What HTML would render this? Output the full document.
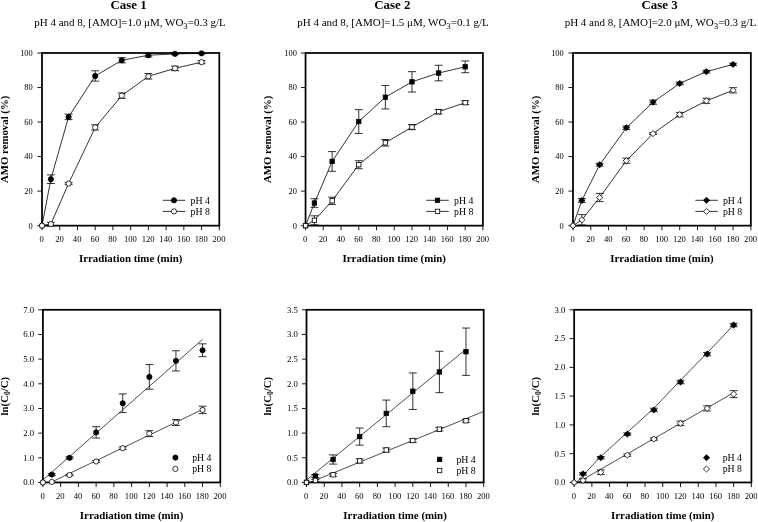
<!DOCTYPE html>
<html lang="en">
<head>
<meta charset="utf-8">
<title>AMO removal - Case 1, Case 2, Case 3</title>
<style>
html,body{margin:0;padding:0;background:#fff;}
svg{display:block;font-family:'Liberation Serif', 'DejaVu Serif', serif;fill:#000;}
svg text{fill:#000;stroke:none;}
</style>
</head>
<body>
<svg width="758" height="522" viewBox="0 0 758 522">
<rect width="758" height="522" fill="#fff"/>
<line x1="42" y1="225.65" x2="42" y2="230.25" stroke="#000" stroke-width="0.9"/>
<line x1="59.73" y1="225.65" x2="59.73" y2="230.25" stroke="#000" stroke-width="0.9"/>
<line x1="77.46" y1="225.65" x2="77.46" y2="230.25" stroke="#000" stroke-width="0.9"/>
<line x1="95.19" y1="225.65" x2="95.19" y2="230.25" stroke="#000" stroke-width="0.9"/>
<line x1="112.92" y1="225.65" x2="112.92" y2="230.25" stroke="#000" stroke-width="0.9"/>
<line x1="130.65" y1="225.65" x2="130.65" y2="230.25" stroke="#000" stroke-width="0.9"/>
<line x1="148.38" y1="225.65" x2="148.38" y2="230.25" stroke="#000" stroke-width="0.9"/>
<line x1="166.11" y1="225.65" x2="166.11" y2="230.25" stroke="#000" stroke-width="0.9"/>
<line x1="183.84" y1="225.65" x2="183.84" y2="230.25" stroke="#000" stroke-width="0.9"/>
<line x1="201.57" y1="225.65" x2="201.57" y2="230.25" stroke="#000" stroke-width="0.9"/>
<line x1="219.3" y1="225.65" x2="219.3" y2="230.25" stroke="#000" stroke-width="0.9"/>
<line x1="37.4" y1="225.65" x2="42" y2="225.65" stroke="#000" stroke-width="0.9"/>
<line x1="37.4" y1="191.12" x2="42" y2="191.12" stroke="#000" stroke-width="0.9"/>
<line x1="37.4" y1="156.59" x2="42" y2="156.59" stroke="#000" stroke-width="0.9"/>
<line x1="37.4" y1="122.06" x2="42" y2="122.06" stroke="#000" stroke-width="0.9"/>
<line x1="37.4" y1="87.53" x2="42" y2="87.53" stroke="#000" stroke-width="0.9"/>
<line x1="37.4" y1="53" x2="42" y2="53" stroke="#000" stroke-width="0.9"/>
<text x="41.7" y="241.75" font-size="8.6" text-anchor="middle">0</text>
<text x="59.43" y="241.75" font-size="8.6" text-anchor="middle">20</text>
<text x="77.16" y="241.75" font-size="8.6" text-anchor="middle">40</text>
<text x="94.89" y="241.75" font-size="8.6" text-anchor="middle">60</text>
<text x="112.62" y="241.75" font-size="8.6" text-anchor="middle">80</text>
<text x="130.35" y="241.75" font-size="8.6" text-anchor="middle">100</text>
<text x="148.08" y="241.75" font-size="8.6" text-anchor="middle">120</text>
<text x="165.81" y="241.75" font-size="8.6" text-anchor="middle">140</text>
<text x="183.54" y="241.75" font-size="8.6" text-anchor="middle">160</text>
<text x="201.27" y="241.75" font-size="8.6" text-anchor="middle">180</text>
<text x="219" y="241.75" font-size="8.6" text-anchor="middle">200</text>
<text x="32.7" y="228.55" font-size="8.4" text-anchor="end">0</text>
<text x="32.7" y="194.02" font-size="8.4" text-anchor="end">20</text>
<text x="32.7" y="159.49" font-size="8.4" text-anchor="end">40</text>
<text x="32.7" y="124.96" font-size="8.4" text-anchor="end">60</text>
<text x="32.7" y="90.43" font-size="8.4" text-anchor="end">80</text>
<text x="32.7" y="55.9" font-size="8.4" text-anchor="end">100</text>
<rect x="42" y="53" width="177.3" height="172.65" fill="none" stroke="#000" stroke-width="1.75"/>
<polyline points="42,225.65 50.87,179.21 68.59,116.88 95.19,75.96 121.79,60.25 148.38,55.24 174.98,53.86 201.57,53.35" fill="none" stroke="#000" stroke-width="0.8"/>
<path d="M50.87 174.89V183.52M46.87 174.89H54.87M46.87 183.52H54.87" fill="none" stroke="#000" stroke-width="0.8"/>
<path d="M68.59 114.12V119.64M64.59 114.12H72.59M64.59 119.64H72.59" fill="none" stroke="#000" stroke-width="0.8"/>
<path d="M95.19 70.78V81.14M91.19 70.78H99.19M91.19 81.14H99.19" fill="none" stroke="#000" stroke-width="0.8"/>
<path d="M121.79 57.66V62.84M117.79 57.66H125.79M117.79 62.84H125.79" fill="none" stroke="#000" stroke-width="0.8"/>
<path d="M148.38 53.52V56.97M144.38 53.52H152.38M144.38 56.97H152.38" fill="none" stroke="#000" stroke-width="0.8"/>
<path d="M174.98 53V54.73M170.98 53H178.98M170.98 54.73H178.98" fill="none" stroke="#000" stroke-width="0.8"/>
<path d="M201.57 52.83V53.86M197.57 52.83H205.57M197.57 53.86H205.57" fill="none" stroke="#000" stroke-width="0.8"/>
<circle cx="42" cy="225.65" r="2.6" fill="#000" stroke="#000" stroke-width="0.8"/>
<circle cx="50.87" cy="179.21" r="2.6" fill="#000" stroke="#000" stroke-width="0.8"/>
<circle cx="68.59" cy="116.88" r="2.6" fill="#000" stroke="#000" stroke-width="0.8"/>
<circle cx="95.19" cy="75.96" r="2.6" fill="#000" stroke="#000" stroke-width="0.8"/>
<circle cx="121.79" cy="60.25" r="2.6" fill="#000" stroke="#000" stroke-width="0.8"/>
<circle cx="148.38" cy="55.24" r="2.6" fill="#000" stroke="#000" stroke-width="0.8"/>
<circle cx="174.98" cy="53.86" r="2.6" fill="#000" stroke="#000" stroke-width="0.8"/>
<circle cx="201.57" cy="53.35" r="2.6" fill="#000" stroke="#000" stroke-width="0.8"/>
<polyline points="42,225.65 50.87,224.1 68.59,183.52 95.19,127.41 121.79,95.64 148.38,76.31 174.98,68.37 201.57,62.15" fill="none" stroke="#000" stroke-width="0.8"/>
<path d="M50.87 222.37V225.82M46.87 222.37H54.87M46.87 225.82H54.87" fill="none" stroke="#000" stroke-width="0.8"/>
<path d="M68.59 182.66V184.39M64.59 182.66H72.59M64.59 184.39H72.59" fill="none" stroke="#000" stroke-width="0.8"/>
<path d="M95.19 124.82V130M91.19 124.82H99.19M91.19 130H99.19" fill="none" stroke="#000" stroke-width="0.8"/>
<path d="M121.79 92.88V98.41M117.79 92.88H125.79M117.79 98.41H125.79" fill="none" stroke="#000" stroke-width="0.8"/>
<path d="M148.38 73.55V79.07M144.38 73.55H152.38M144.38 79.07H152.38" fill="none" stroke="#000" stroke-width="0.8"/>
<path d="M174.98 66.12V70.61M170.98 66.12H178.98M170.98 70.61H178.98" fill="none" stroke="#000" stroke-width="0.8"/>
<path d="M201.57 60.6V63.7M197.57 60.6H205.57M197.57 63.7H205.57" fill="none" stroke="#000" stroke-width="0.8"/>
<circle cx="42" cy="225.65" r="2.6" fill="#fff" stroke="#000" stroke-width="0.8"/>
<circle cx="50.87" cy="224.1" r="2.6" fill="#fff" stroke="#000" stroke-width="0.8"/>
<circle cx="68.59" cy="183.52" r="2.6" fill="#fff" stroke="#000" stroke-width="0.8"/>
<circle cx="95.19" cy="127.41" r="2.6" fill="#fff" stroke="#000" stroke-width="0.8"/>
<circle cx="121.79" cy="95.64" r="2.6" fill="#fff" stroke="#000" stroke-width="0.8"/>
<circle cx="148.38" cy="76.31" r="2.6" fill="#fff" stroke="#000" stroke-width="0.8"/>
<circle cx="174.98" cy="68.37" r="2.6" fill="#fff" stroke="#000" stroke-width="0.8"/>
<circle cx="201.57" cy="62.15" r="2.6" fill="#fff" stroke="#000" stroke-width="0.8"/>
<line x1="162.8" y1="200.3" x2="185.2" y2="200.3" stroke="#000" stroke-width="0.8"/>
<circle cx="174" cy="200.3" r="2.6" fill="#000" stroke="#000" stroke-width="0.8"/>
<text x="190.5" y="203.5" font-size="9.8">pH 4</text>
<line x1="162.8" y1="211.4" x2="185.2" y2="211.4" stroke="#000" stroke-width="0.8"/>
<circle cx="174" cy="211.4" r="2.6" fill="#fff" stroke="#000" stroke-width="0.8"/>
<text x="190.5" y="214.6" font-size="9.8">pH 8</text>
<text x="130.65" y="262.35" font-size="10.9" font-weight="bold" text-anchor="middle">Irradiation time (min)</text>
<text transform="translate(7.9,139.32) rotate(-90)" font-size="10.8" font-weight="bold" text-anchor="middle">AMO removal (%)</text>
<text x="128.6" y="9.2" font-size="12.9" font-weight="bold" text-anchor="middle">Case 1</text>
<text x="130" y="25.6" font-size="11" text-anchor="middle">pH 4 and 8, [AMO]=1.0 μM, WO<tspan font-size="8.8" dy="3.4">3</tspan><tspan dy="-3.4">=0.3 g/L</tspan></text>
<line x1="305.55" y1="225.65" x2="305.55" y2="230.25" stroke="#000" stroke-width="0.9"/>
<line x1="323.29" y1="225.65" x2="323.29" y2="230.25" stroke="#000" stroke-width="0.9"/>
<line x1="341.02" y1="225.65" x2="341.02" y2="230.25" stroke="#000" stroke-width="0.9"/>
<line x1="358.75" y1="225.65" x2="358.75" y2="230.25" stroke="#000" stroke-width="0.9"/>
<line x1="376.49" y1="225.65" x2="376.49" y2="230.25" stroke="#000" stroke-width="0.9"/>
<line x1="394.23" y1="225.65" x2="394.23" y2="230.25" stroke="#000" stroke-width="0.9"/>
<line x1="411.96" y1="225.65" x2="411.96" y2="230.25" stroke="#000" stroke-width="0.9"/>
<line x1="429.69" y1="225.65" x2="429.69" y2="230.25" stroke="#000" stroke-width="0.9"/>
<line x1="447.43" y1="225.65" x2="447.43" y2="230.25" stroke="#000" stroke-width="0.9"/>
<line x1="465.16" y1="225.65" x2="465.16" y2="230.25" stroke="#000" stroke-width="0.9"/>
<line x1="482.9" y1="225.65" x2="482.9" y2="230.25" stroke="#000" stroke-width="0.9"/>
<line x1="300.95" y1="225.65" x2="305.55" y2="225.65" stroke="#000" stroke-width="0.9"/>
<line x1="300.95" y1="191.12" x2="305.55" y2="191.12" stroke="#000" stroke-width="0.9"/>
<line x1="300.95" y1="156.59" x2="305.55" y2="156.59" stroke="#000" stroke-width="0.9"/>
<line x1="300.95" y1="122.06" x2="305.55" y2="122.06" stroke="#000" stroke-width="0.9"/>
<line x1="300.95" y1="87.53" x2="305.55" y2="87.53" stroke="#000" stroke-width="0.9"/>
<line x1="300.95" y1="53" x2="305.55" y2="53" stroke="#000" stroke-width="0.9"/>
<text x="305.25" y="241.75" font-size="8.6" text-anchor="middle">0</text>
<text x="322.99" y="241.75" font-size="8.6" text-anchor="middle">20</text>
<text x="340.72" y="241.75" font-size="8.6" text-anchor="middle">40</text>
<text x="358.45" y="241.75" font-size="8.6" text-anchor="middle">60</text>
<text x="376.19" y="241.75" font-size="8.6" text-anchor="middle">80</text>
<text x="393.93" y="241.75" font-size="8.6" text-anchor="middle">100</text>
<text x="411.66" y="241.75" font-size="8.6" text-anchor="middle">120</text>
<text x="429.39" y="241.75" font-size="8.6" text-anchor="middle">140</text>
<text x="447.13" y="241.75" font-size="8.6" text-anchor="middle">160</text>
<text x="464.86" y="241.75" font-size="8.6" text-anchor="middle">180</text>
<text x="482.6" y="241.75" font-size="8.6" text-anchor="middle">200</text>
<text x="296.85" y="228.55" font-size="8.4" text-anchor="end">0</text>
<text x="296.85" y="194.02" font-size="8.4" text-anchor="end">20</text>
<text x="296.85" y="159.49" font-size="8.4" text-anchor="end">40</text>
<text x="296.85" y="124.96" font-size="8.4" text-anchor="end">60</text>
<text x="296.85" y="90.43" font-size="8.4" text-anchor="end">80</text>
<text x="296.85" y="55.9" font-size="8.4" text-anchor="end">100</text>
<rect x="305.55" y="53" width="177.35" height="172.65" fill="none" stroke="#000" stroke-width="1.75"/>
<polyline points="305.55,225.65 314.42,203.03 332.15,161.42 358.75,121.54 385.36,97.2 411.96,81.83 438.56,73.03 465.16,66.81" fill="none" stroke="#000" stroke-width="0.8"/>
<path d="M314.42 198.72V207.35M310.42 198.72H318.42M310.42 207.35H318.42" fill="none" stroke="#000" stroke-width="0.8"/>
<path d="M332.15 151.58V171.27M328.15 151.58H336.15M328.15 171.27H336.15" fill="none" stroke="#000" stroke-width="0.8"/>
<path d="M358.75 109.63V133.45M354.75 109.63H362.75M354.75 133.45H362.75" fill="none" stroke="#000" stroke-width="0.8"/>
<path d="M385.36 85.46V108.94M381.36 85.46H389.36M381.36 108.94H389.36" fill="none" stroke="#000" stroke-width="0.8"/>
<path d="M411.96 71.65V92.02M407.96 71.65H415.96M407.96 92.02H415.96" fill="none" stroke="#000" stroke-width="0.8"/>
<path d="M438.56 65.26V80.8M434.56 65.26H442.56M434.56 80.8H442.56" fill="none" stroke="#000" stroke-width="0.8"/>
<path d="M465.16 60.94V72.68M461.16 60.94H469.16M461.16 72.68H469.16" fill="none" stroke="#000" stroke-width="0.8"/>
<rect x="303.35" y="223.45" width="4.4" height="4.4" fill="#000" stroke="#000" stroke-width="0.8"/>
<rect x="312.22" y="200.83" width="4.4" height="4.4" fill="#000" stroke="#000" stroke-width="0.8"/>
<rect x="329.95" y="159.22" width="4.4" height="4.4" fill="#000" stroke="#000" stroke-width="0.8"/>
<rect x="356.56" y="119.34" width="4.4" height="4.4" fill="#000" stroke="#000" stroke-width="0.8"/>
<rect x="383.16" y="95" width="4.4" height="4.4" fill="#000" stroke="#000" stroke-width="0.8"/>
<rect x="409.76" y="79.63" width="4.4" height="4.4" fill="#000" stroke="#000" stroke-width="0.8"/>
<rect x="436.36" y="70.83" width="4.4" height="4.4" fill="#000" stroke="#000" stroke-width="0.8"/>
<rect x="462.96" y="64.61" width="4.4" height="4.4" fill="#000" stroke="#000" stroke-width="0.8"/>
<polyline points="305.55,225.65 314.42,220.3 332.15,200.79 358.75,164.7 385.36,142.78 411.96,127.07 438.56,111.7 465.16,102.72" fill="none" stroke="#000" stroke-width="0.8"/>
<path d="M314.42 215.81V224.79M310.42 215.81H318.42M310.42 224.79H318.42" fill="none" stroke="#000" stroke-width="0.8"/>
<path d="M332.15 197.16V204.41M328.15 197.16H336.15M328.15 204.41H336.15" fill="none" stroke="#000" stroke-width="0.8"/>
<path d="M358.75 160.73V168.68M354.75 160.73H362.75M354.75 168.68H362.75" fill="none" stroke="#000" stroke-width="0.8"/>
<path d="M385.36 139.5V146.06M381.36 139.5H389.36M381.36 146.06H389.36" fill="none" stroke="#000" stroke-width="0.8"/>
<path d="M411.96 124.48V129.66M407.96 124.48H415.96M407.96 129.66H415.96" fill="none" stroke="#000" stroke-width="0.8"/>
<path d="M438.56 109.46V113.95M434.56 109.46H442.56M434.56 113.95H442.56" fill="none" stroke="#000" stroke-width="0.8"/>
<path d="M465.16 101V104.45M461.16 101H469.16M461.16 104.45H469.16" fill="none" stroke="#000" stroke-width="0.8"/>
<rect x="303.35" y="223.45" width="4.4" height="4.4" fill="#fff" stroke="#000" stroke-width="0.8"/>
<rect x="312.22" y="218.1" width="4.4" height="4.4" fill="#fff" stroke="#000" stroke-width="0.8"/>
<rect x="329.95" y="198.59" width="4.4" height="4.4" fill="#fff" stroke="#000" stroke-width="0.8"/>
<rect x="356.56" y="162.5" width="4.4" height="4.4" fill="#fff" stroke="#000" stroke-width="0.8"/>
<rect x="383.16" y="140.58" width="4.4" height="4.4" fill="#fff" stroke="#000" stroke-width="0.8"/>
<rect x="409.76" y="124.87" width="4.4" height="4.4" fill="#fff" stroke="#000" stroke-width="0.8"/>
<rect x="436.36" y="109.5" width="4.4" height="4.4" fill="#fff" stroke="#000" stroke-width="0.8"/>
<rect x="462.96" y="100.52" width="4.4" height="4.4" fill="#fff" stroke="#000" stroke-width="0.8"/>
<line x1="426.3" y1="200.3" x2="448.7" y2="200.3" stroke="#000" stroke-width="0.8"/>
<rect x="435.3" y="198.1" width="4.4" height="4.4" fill="#000" stroke="#000" stroke-width="0.8"/>
<text x="454" y="203.5" font-size="9.8">pH 4</text>
<line x1="426.3" y1="211.4" x2="448.7" y2="211.4" stroke="#000" stroke-width="0.8"/>
<rect x="435.3" y="209.2" width="4.4" height="4.4" fill="#fff" stroke="#000" stroke-width="0.8"/>
<text x="454" y="214.6" font-size="9.8">pH 8</text>
<text x="394.23" y="262.35" font-size="10.9" font-weight="bold" text-anchor="middle">Irradiation time (min)</text>
<text transform="translate(270.6,139.32) rotate(-90)" font-size="10.8" font-weight="bold" text-anchor="middle">AMO removal (%)</text>
<text x="392.3" y="9.2" font-size="12.9" font-weight="bold" text-anchor="middle">Case 2</text>
<text x="393" y="25.6" font-size="11" text-anchor="middle">pH 4 and 8, [AMO]=1.5 μM, WO<tspan font-size="8.8" dy="3.4">3</tspan><tspan dy="-3.4">=0.1 g/L</tspan></text>
<line x1="573" y1="225.65" x2="573" y2="230.25" stroke="#000" stroke-width="0.9"/>
<line x1="590.78" y1="225.65" x2="590.78" y2="230.25" stroke="#000" stroke-width="0.9"/>
<line x1="608.57" y1="225.65" x2="608.57" y2="230.25" stroke="#000" stroke-width="0.9"/>
<line x1="626.36" y1="225.65" x2="626.36" y2="230.25" stroke="#000" stroke-width="0.9"/>
<line x1="644.14" y1="225.65" x2="644.14" y2="230.25" stroke="#000" stroke-width="0.9"/>
<line x1="661.92" y1="225.65" x2="661.92" y2="230.25" stroke="#000" stroke-width="0.9"/>
<line x1="679.71" y1="225.65" x2="679.71" y2="230.25" stroke="#000" stroke-width="0.9"/>
<line x1="697.5" y1="225.65" x2="697.5" y2="230.25" stroke="#000" stroke-width="0.9"/>
<line x1="715.28" y1="225.65" x2="715.28" y2="230.25" stroke="#000" stroke-width="0.9"/>
<line x1="733.07" y1="225.65" x2="733.07" y2="230.25" stroke="#000" stroke-width="0.9"/>
<line x1="750.85" y1="225.65" x2="750.85" y2="230.25" stroke="#000" stroke-width="0.9"/>
<line x1="568.4" y1="225.65" x2="573" y2="225.65" stroke="#000" stroke-width="0.9"/>
<line x1="568.4" y1="191.12" x2="573" y2="191.12" stroke="#000" stroke-width="0.9"/>
<line x1="568.4" y1="156.59" x2="573" y2="156.59" stroke="#000" stroke-width="0.9"/>
<line x1="568.4" y1="122.06" x2="573" y2="122.06" stroke="#000" stroke-width="0.9"/>
<line x1="568.4" y1="87.53" x2="573" y2="87.53" stroke="#000" stroke-width="0.9"/>
<line x1="568.4" y1="53" x2="573" y2="53" stroke="#000" stroke-width="0.9"/>
<text x="572.7" y="241.75" font-size="8.6" text-anchor="middle">0</text>
<text x="590.49" y="241.75" font-size="8.6" text-anchor="middle">20</text>
<text x="608.27" y="241.75" font-size="8.6" text-anchor="middle">40</text>
<text x="626.06" y="241.75" font-size="8.6" text-anchor="middle">60</text>
<text x="643.84" y="241.75" font-size="8.6" text-anchor="middle">80</text>
<text x="661.62" y="241.75" font-size="8.6" text-anchor="middle">100</text>
<text x="679.41" y="241.75" font-size="8.6" text-anchor="middle">120</text>
<text x="697.2" y="241.75" font-size="8.6" text-anchor="middle">140</text>
<text x="714.98" y="241.75" font-size="8.6" text-anchor="middle">160</text>
<text x="732.77" y="241.75" font-size="8.6" text-anchor="middle">180</text>
<text x="750.55" y="241.75" font-size="8.6" text-anchor="middle">200</text>
<text x="563.7" y="228.55" font-size="8.4" text-anchor="end">0</text>
<text x="563.7" y="194.02" font-size="8.4" text-anchor="end">20</text>
<text x="563.7" y="159.49" font-size="8.4" text-anchor="end">40</text>
<text x="563.7" y="124.96" font-size="8.4" text-anchor="end">60</text>
<text x="563.7" y="90.43" font-size="8.4" text-anchor="end">80</text>
<text x="563.7" y="55.9" font-size="8.4" text-anchor="end">100</text>
<rect x="573" y="53" width="177.85" height="172.65" fill="none" stroke="#000" stroke-width="1.75"/>
<polyline points="573,225.65 581.89,200.44 599.68,164.7 626.36,127.76 653.03,102.21 679.71,83.39 706.39,71.65 733.07,64.39" fill="none" stroke="#000" stroke-width="0.8"/>
<path d="M581.89 198.54V202.34M577.89 198.54H585.89M577.89 202.34H585.89" fill="none" stroke="#000" stroke-width="0.8"/>
<path d="M599.68 163.32V166.09M595.68 163.32H603.68M595.68 166.09H603.68" fill="none" stroke="#000" stroke-width="0.8"/>
<path d="M626.36 126.03V129.48M622.36 126.03H630.36M622.36 129.48H630.36" fill="none" stroke="#000" stroke-width="0.8"/>
<path d="M653.03 100.13V104.28M649.03 100.13H657.03M649.03 104.28H657.03" fill="none" stroke="#000" stroke-width="0.8"/>
<path d="M679.71 82.01V84.77M675.71 82.01H683.71M675.71 84.77H683.71" fill="none" stroke="#000" stroke-width="0.8"/>
<path d="M706.39 70.26V73.03M702.39 70.26H710.39M702.39 73.03H710.39" fill="none" stroke="#000" stroke-width="0.8"/>
<path d="M733.07 63.19V65.6M729.07 63.19H737.07M729.07 65.6H737.07" fill="none" stroke="#000" stroke-width="0.8"/>
<polygon points="569.85,225.65 573,222.65 576.15,225.65 573,228.65" fill="#000" stroke="#000" stroke-width="0.8"/>
<polygon points="578.74,200.44 581.89,197.44 585.04,200.44 581.89,203.44" fill="#000" stroke="#000" stroke-width="0.8"/>
<polygon points="596.53,164.7 599.68,161.7 602.83,164.7 599.68,167.7" fill="#000" stroke="#000" stroke-width="0.8"/>
<polygon points="623.21,127.76 626.36,124.76 629.5,127.76 626.36,130.76" fill="#000" stroke="#000" stroke-width="0.8"/>
<polygon points="649.88,102.21 653.03,99.21 656.18,102.21 653.03,105.21" fill="#000" stroke="#000" stroke-width="0.8"/>
<polygon points="676.56,83.39 679.71,80.39 682.86,83.39 679.71,86.39" fill="#000" stroke="#000" stroke-width="0.8"/>
<polygon points="703.24,71.65 706.39,68.65 709.54,71.65 706.39,74.65" fill="#000" stroke="#000" stroke-width="0.8"/>
<polygon points="729.92,64.39 733.07,61.39 736.22,64.39 733.07,67.39" fill="#000" stroke="#000" stroke-width="0.8"/>
<polyline points="573,225.65 581.89,219.78 599.68,197.51 626.36,160.73 653.03,133.63 679.71,114.64 706.39,100.82 733.07,90.29" fill="none" stroke="#000" stroke-width="0.8"/>
<path d="M581.89 214.6V224.96M577.89 214.6H585.89M577.89 224.96H585.89" fill="none" stroke="#000" stroke-width="0.8"/>
<path d="M599.68 193.36V201.65M595.68 193.36H603.68M595.68 201.65H603.68" fill="none" stroke="#000" stroke-width="0.8"/>
<path d="M626.36 158.14V163.32M622.36 158.14H630.36M622.36 163.32H630.36" fill="none" stroke="#000" stroke-width="0.8"/>
<path d="M653.03 132.76V134.49M649.03 132.76H657.03M649.03 134.49H657.03" fill="none" stroke="#000" stroke-width="0.8"/>
<path d="M679.71 112.39V116.88M675.71 112.39H683.71M675.71 116.88H683.71" fill="none" stroke="#000" stroke-width="0.8"/>
<path d="M706.39 98.23V103.41M702.39 98.23H710.39M702.39 103.41H710.39" fill="none" stroke="#000" stroke-width="0.8"/>
<path d="M733.07 87.7V92.88M729.07 87.7H737.07M729.07 92.88H737.07" fill="none" stroke="#000" stroke-width="0.8"/>
<polygon points="569.85,225.65 573,222.65 576.15,225.65 573,228.65" fill="#fff" stroke="#000" stroke-width="0.8"/>
<polygon points="578.74,219.78 581.89,216.78 585.04,219.78 581.89,222.78" fill="#fff" stroke="#000" stroke-width="0.8"/>
<polygon points="596.53,197.51 599.68,194.51 602.83,197.51 599.68,200.51" fill="#fff" stroke="#000" stroke-width="0.8"/>
<polygon points="623.21,160.73 626.36,157.73 629.5,160.73 626.36,163.73" fill="#fff" stroke="#000" stroke-width="0.8"/>
<polygon points="649.88,133.63 653.03,130.63 656.18,133.63 653.03,136.63" fill="#fff" stroke="#000" stroke-width="0.8"/>
<polygon points="676.56,114.64 679.71,111.64 682.86,114.64 679.71,117.64" fill="#fff" stroke="#000" stroke-width="0.8"/>
<polygon points="703.24,100.82 706.39,97.82 709.54,100.82 706.39,103.82" fill="#fff" stroke="#000" stroke-width="0.8"/>
<polygon points="729.92,90.29 733.07,87.29 736.22,90.29 733.07,93.29" fill="#fff" stroke="#000" stroke-width="0.8"/>
<line x1="695.35" y1="200.3" x2="717.75" y2="200.3" stroke="#000" stroke-width="0.8"/>
<polygon points="703.4,200.3 706.55,197.3 709.7,200.3 706.55,203.3" fill="#000" stroke="#000" stroke-width="0.8"/>
<text x="722.9" y="203.5" font-size="9.8">pH 4</text>
<line x1="695.35" y1="211.4" x2="717.75" y2="211.4" stroke="#000" stroke-width="0.8"/>
<polygon points="703.4,211.4 706.55,208.4 709.7,211.4 706.55,214.4" fill="#fff" stroke="#000" stroke-width="0.8"/>
<text x="722.9" y="214.6" font-size="9.8">pH 8</text>
<text x="661.92" y="262.35" font-size="10.9" font-weight="bold" text-anchor="middle">Irradiation time (min)</text>
<text transform="translate(539,139.32) rotate(-90)" font-size="10.8" font-weight="bold" text-anchor="middle">AMO removal (%)</text>
<text x="659.6" y="9.2" font-size="12.9" font-weight="bold" text-anchor="middle">Case 3</text>
<text x="660.4" y="25.6" font-size="11" text-anchor="middle">pH 4 and 8, [AMO]=2.0 μM, WO<tspan font-size="8.8" dy="3.4">3</tspan><tspan dy="-3.4">=0.3 g/L</tspan></text>
<line x1="42.9" y1="482.45" x2="42.9" y2="487.05" stroke="#000" stroke-width="0.9"/>
<line x1="60.64" y1="482.45" x2="60.64" y2="487.05" stroke="#000" stroke-width="0.9"/>
<line x1="78.38" y1="482.45" x2="78.38" y2="487.05" stroke="#000" stroke-width="0.9"/>
<line x1="96.12" y1="482.45" x2="96.12" y2="487.05" stroke="#000" stroke-width="0.9"/>
<line x1="113.86" y1="482.45" x2="113.86" y2="487.05" stroke="#000" stroke-width="0.9"/>
<line x1="131.6" y1="482.45" x2="131.6" y2="487.05" stroke="#000" stroke-width="0.9"/>
<line x1="149.34" y1="482.45" x2="149.34" y2="487.05" stroke="#000" stroke-width="0.9"/>
<line x1="167.08" y1="482.45" x2="167.08" y2="487.05" stroke="#000" stroke-width="0.9"/>
<line x1="184.82" y1="482.45" x2="184.82" y2="487.05" stroke="#000" stroke-width="0.9"/>
<line x1="202.56" y1="482.45" x2="202.56" y2="487.05" stroke="#000" stroke-width="0.9"/>
<line x1="220.3" y1="482.45" x2="220.3" y2="487.05" stroke="#000" stroke-width="0.9"/>
<line x1="38.3" y1="482.45" x2="42.9" y2="482.45" stroke="#000" stroke-width="0.9"/>
<line x1="38.3" y1="457.79" x2="42.9" y2="457.79" stroke="#000" stroke-width="0.9"/>
<line x1="38.3" y1="433.12" x2="42.9" y2="433.12" stroke="#000" stroke-width="0.9"/>
<line x1="38.3" y1="408.46" x2="42.9" y2="408.46" stroke="#000" stroke-width="0.9"/>
<line x1="38.3" y1="383.79" x2="42.9" y2="383.79" stroke="#000" stroke-width="0.9"/>
<line x1="38.3" y1="359.13" x2="42.9" y2="359.13" stroke="#000" stroke-width="0.9"/>
<line x1="38.3" y1="334.46" x2="42.9" y2="334.46" stroke="#000" stroke-width="0.9"/>
<line x1="38.3" y1="309.8" x2="42.9" y2="309.8" stroke="#000" stroke-width="0.9"/>
<text x="42.6" y="498.55" font-size="8.6" text-anchor="middle">0</text>
<text x="60.34" y="498.55" font-size="8.6" text-anchor="middle">20</text>
<text x="78.08" y="498.55" font-size="8.6" text-anchor="middle">40</text>
<text x="95.82" y="498.55" font-size="8.6" text-anchor="middle">60</text>
<text x="113.56" y="498.55" font-size="8.6" text-anchor="middle">80</text>
<text x="131.3" y="498.55" font-size="8.6" text-anchor="middle">100</text>
<text x="149.04" y="498.55" font-size="8.6" text-anchor="middle">120</text>
<text x="166.78" y="498.55" font-size="8.6" text-anchor="middle">140</text>
<text x="184.52" y="498.55" font-size="8.6" text-anchor="middle">160</text>
<text x="202.26" y="498.55" font-size="8.6" text-anchor="middle">180</text>
<text x="220" y="498.55" font-size="8.6" text-anchor="middle">200</text>
<text x="34.2" y="485.35" font-size="8.7" text-anchor="end">0.0</text>
<text x="34.2" y="460.69" font-size="8.7" text-anchor="end">1.0</text>
<text x="34.2" y="436.02" font-size="8.7" text-anchor="end">2.0</text>
<text x="34.2" y="411.36" font-size="8.7" text-anchor="end">3.0</text>
<text x="34.2" y="386.69" font-size="8.7" text-anchor="end">4.0</text>
<text x="34.2" y="362.03" font-size="8.7" text-anchor="end">5.0</text>
<text x="34.2" y="337.36" font-size="8.7" text-anchor="end">6.0</text>
<text x="34.2" y="312.7" font-size="8.7" text-anchor="end">7.0</text>
<rect x="42.9" y="309.8" width="177.4" height="172.65" fill="none" stroke="#000" stroke-width="1.75"/>
<line x1="42.9" y1="480.06" x2="202.56" y2="339.4" stroke="#000" stroke-width="0.7"/>
<line x1="50.88" y1="482.45" x2="202.56" y2="409.44" stroke="#000" stroke-width="0.7"/>
<path d="M51.77 473.57V475.54M47.77 473.57H55.77M47.77 475.54H55.77" fill="none" stroke="#000" stroke-width="0.8"/>
<path d="M69.51 456.8V458.77M65.51 456.8H73.51M65.51 458.77H73.51" fill="none" stroke="#000" stroke-width="0.8"/>
<path d="M96.12 426.71V438.05M92.12 426.71H100.12M92.12 438.05H100.12" fill="none" stroke="#000" stroke-width="0.8"/>
<path d="M122.73 393.91V412.65M118.73 393.91H126.73M118.73 412.65H126.73" fill="none" stroke="#000" stroke-width="0.8"/>
<path d="M149.34 364.55V389.22M145.34 364.55H153.34M145.34 389.22H153.34" fill="none" stroke="#000" stroke-width="0.8"/>
<path d="M175.95 350.74V370.97M171.95 350.74H179.95M171.95 370.97H179.95" fill="none" stroke="#000" stroke-width="0.8"/>
<path d="M202.56 343.84V356.66M198.56 343.84H206.56M198.56 356.66H206.56" fill="none" stroke="#000" stroke-width="0.8"/>
<circle cx="42.9" cy="482.45" r="2.6" fill="#000" stroke="#000" stroke-width="0.8"/>
<circle cx="51.77" cy="474.56" r="2.6" fill="#000" stroke="#000" stroke-width="0.8"/>
<circle cx="69.51" cy="457.79" r="2.6" fill="#000" stroke="#000" stroke-width="0.8"/>
<circle cx="96.12" cy="432.38" r="2.6" fill="#000" stroke="#000" stroke-width="0.8"/>
<circle cx="122.73" cy="403.28" r="2.6" fill="#000" stroke="#000" stroke-width="0.8"/>
<circle cx="149.34" cy="376.89" r="2.6" fill="#000" stroke="#000" stroke-width="0.8"/>
<circle cx="175.95" cy="360.86" r="2.6" fill="#000" stroke="#000" stroke-width="0.8"/>
<circle cx="202.56" cy="350.25" r="2.6" fill="#000" stroke="#000" stroke-width="0.8"/>
<path d="M69.51 474.31V475.79M65.51 474.31H73.51M65.51 475.79H73.51" fill="none" stroke="#000" stroke-width="0.8"/>
<path d="M96.12 460.5V462.47M92.12 460.5H100.12M92.12 462.47H100.12" fill="none" stroke="#000" stroke-width="0.8"/>
<path d="M122.73 446.93V449.4M118.73 446.93H126.73M118.73 449.4H126.73" fill="none" stroke="#000" stroke-width="0.8"/>
<path d="M149.34 430.65V436.57M145.34 430.65H153.34M145.34 436.57H153.34" fill="none" stroke="#000" stroke-width="0.8"/>
<path d="M175.95 419.56V425.48M171.95 419.56H179.95M171.95 425.48H179.95" fill="none" stroke="#000" stroke-width="0.8"/>
<path d="M202.56 406.24V413.64M198.56 406.24H206.56M198.56 413.64H206.56" fill="none" stroke="#000" stroke-width="0.8"/>
<circle cx="42.9" cy="482.45" r="2.6" fill="#fff" stroke="#000" stroke-width="0.8"/>
<circle cx="51.77" cy="481.96" r="2.6" fill="#fff" stroke="#000" stroke-width="0.8"/>
<circle cx="69.51" cy="475.05" r="2.6" fill="#fff" stroke="#000" stroke-width="0.8"/>
<circle cx="96.12" cy="461.49" r="2.6" fill="#fff" stroke="#000" stroke-width="0.8"/>
<circle cx="122.73" cy="448.17" r="2.6" fill="#fff" stroke="#000" stroke-width="0.8"/>
<circle cx="149.34" cy="433.61" r="2.6" fill="#fff" stroke="#000" stroke-width="0.8"/>
<circle cx="175.95" cy="422.52" r="2.6" fill="#fff" stroke="#000" stroke-width="0.8"/>
<circle cx="202.56" cy="409.94" r="2.6" fill="#fff" stroke="#000" stroke-width="0.8"/>
<circle cx="175.4" cy="457.6" r="2.6" fill="#000" stroke="#000" stroke-width="0.8"/>
<text x="192.2" y="460.8" font-size="9.8">pH 4</text>
<circle cx="175.4" cy="468.9" r="2.6" fill="#fff" stroke="#000" stroke-width="0.8"/>
<text x="192.2" y="472.1" font-size="9.8">pH 8</text>
<text x="131.6" y="519.15" font-size="10.9" font-weight="bold" text-anchor="middle">Irradiation time (min)</text>
<text transform="translate(7.9,396.12) rotate(-90)" font-size="10.8" font-weight="bold" text-anchor="middle">ln(C<tspan font-size="7.5" dy="2.2">0</tspan><tspan dy="-2.2">/C)</tspan></text>
<line x1="306.5" y1="482.45" x2="306.5" y2="487.05" stroke="#000" stroke-width="0.9"/>
<line x1="324.22" y1="482.45" x2="324.22" y2="487.05" stroke="#000" stroke-width="0.9"/>
<line x1="341.94" y1="482.45" x2="341.94" y2="487.05" stroke="#000" stroke-width="0.9"/>
<line x1="359.66" y1="482.45" x2="359.66" y2="487.05" stroke="#000" stroke-width="0.9"/>
<line x1="377.38" y1="482.45" x2="377.38" y2="487.05" stroke="#000" stroke-width="0.9"/>
<line x1="395.1" y1="482.45" x2="395.1" y2="487.05" stroke="#000" stroke-width="0.9"/>
<line x1="412.82" y1="482.45" x2="412.82" y2="487.05" stroke="#000" stroke-width="0.9"/>
<line x1="430.54" y1="482.45" x2="430.54" y2="487.05" stroke="#000" stroke-width="0.9"/>
<line x1="448.26" y1="482.45" x2="448.26" y2="487.05" stroke="#000" stroke-width="0.9"/>
<line x1="465.98" y1="482.45" x2="465.98" y2="487.05" stroke="#000" stroke-width="0.9"/>
<line x1="483.7" y1="482.45" x2="483.7" y2="487.05" stroke="#000" stroke-width="0.9"/>
<line x1="301.9" y1="482.45" x2="306.5" y2="482.45" stroke="#000" stroke-width="0.9"/>
<line x1="301.9" y1="457.79" x2="306.5" y2="457.79" stroke="#000" stroke-width="0.9"/>
<line x1="301.9" y1="433.12" x2="306.5" y2="433.12" stroke="#000" stroke-width="0.9"/>
<line x1="301.9" y1="408.46" x2="306.5" y2="408.46" stroke="#000" stroke-width="0.9"/>
<line x1="301.9" y1="383.79" x2="306.5" y2="383.79" stroke="#000" stroke-width="0.9"/>
<line x1="301.9" y1="359.13" x2="306.5" y2="359.13" stroke="#000" stroke-width="0.9"/>
<line x1="301.9" y1="334.46" x2="306.5" y2="334.46" stroke="#000" stroke-width="0.9"/>
<line x1="301.9" y1="309.8" x2="306.5" y2="309.8" stroke="#000" stroke-width="0.9"/>
<text x="306.2" y="498.55" font-size="8.6" text-anchor="middle">0</text>
<text x="323.92" y="498.55" font-size="8.6" text-anchor="middle">20</text>
<text x="341.64" y="498.55" font-size="8.6" text-anchor="middle">40</text>
<text x="359.36" y="498.55" font-size="8.6" text-anchor="middle">60</text>
<text x="377.08" y="498.55" font-size="8.6" text-anchor="middle">80</text>
<text x="394.8" y="498.55" font-size="8.6" text-anchor="middle">100</text>
<text x="412.52" y="498.55" font-size="8.6" text-anchor="middle">120</text>
<text x="430.24" y="498.55" font-size="8.6" text-anchor="middle">140</text>
<text x="447.96" y="498.55" font-size="8.6" text-anchor="middle">160</text>
<text x="465.68" y="498.55" font-size="8.6" text-anchor="middle">180</text>
<text x="483.4" y="498.55" font-size="8.6" text-anchor="middle">200</text>
<text x="297.8" y="485.35" font-size="8.7" text-anchor="end">0.0</text>
<text x="297.8" y="460.69" font-size="8.7" text-anchor="end">0.5</text>
<text x="297.8" y="436.02" font-size="8.7" text-anchor="end">1.0</text>
<text x="297.8" y="411.36" font-size="8.7" text-anchor="end">1.5</text>
<text x="297.8" y="386.69" font-size="8.7" text-anchor="end">2.0</text>
<text x="297.8" y="362.03" font-size="8.7" text-anchor="end">2.5</text>
<text x="297.8" y="337.36" font-size="8.7" text-anchor="end">3.0</text>
<text x="297.8" y="312.7" font-size="8.7" text-anchor="end">3.5</text>
<rect x="306.5" y="309.8" width="177.2" height="172.65" fill="none" stroke="#000" stroke-width="1.75"/>
<line x1="306.5" y1="479.98" x2="465.98" y2="349.26" stroke="#000" stroke-width="0.7"/>
<line x1="310.04" y1="482.45" x2="483.7" y2="411.42" stroke="#000" stroke-width="0.7"/>
<path d="M315.36 474.56V477.52M311.36 474.56H319.36M311.36 477.52H319.36" fill="none" stroke="#000" stroke-width="0.8"/>
<path d="M333.08 454.92V464.1M329.08 454.92H337.08M329.08 464.1H337.08" fill="none" stroke="#000" stroke-width="0.8"/>
<path d="M359.66 427.99V445.16M355.66 427.99H363.66M355.66 445.16H363.66" fill="none" stroke="#000" stroke-width="0.8"/>
<path d="M386.24 400.07V426.71M382.24 400.07H390.24M382.24 426.71H390.24" fill="none" stroke="#000" stroke-width="0.8"/>
<path d="M412.82 372.94V409.44M408.82 372.94H416.82M408.82 409.44H416.82" fill="none" stroke="#000" stroke-width="0.8"/>
<path d="M439.4 351.24V392.67M435.4 351.24H443.4M435.4 392.67H443.4" fill="none" stroke="#000" stroke-width="0.8"/>
<path d="M465.98 328.05V375.41M461.98 328.05H469.98M461.98 375.41H469.98" fill="none" stroke="#000" stroke-width="0.8"/>
<rect x="304.3" y="480.25" width="4.4" height="4.4" fill="#000" stroke="#000" stroke-width="0.8"/>
<rect x="313.16" y="473.84" width="4.4" height="4.4" fill="#000" stroke="#000" stroke-width="0.8"/>
<rect x="330.88" y="457.31" width="4.4" height="4.4" fill="#000" stroke="#000" stroke-width="0.8"/>
<rect x="357.46" y="434.37" width="4.4" height="4.4" fill="#000" stroke="#000" stroke-width="0.8"/>
<rect x="384.04" y="411.19" width="4.4" height="4.4" fill="#000" stroke="#000" stroke-width="0.8"/>
<rect x="410.62" y="388.99" width="4.4" height="4.4" fill="#000" stroke="#000" stroke-width="0.8"/>
<rect x="437.2" y="369.75" width="4.4" height="4.4" fill="#000" stroke="#000" stroke-width="0.8"/>
<rect x="463.78" y="349.53" width="4.4" height="4.4" fill="#000" stroke="#000" stroke-width="0.8"/>
<path d="M315.36 479.49V481.46M311.36 479.49H319.36M311.36 481.46H319.36" fill="none" stroke="#000" stroke-width="0.8"/>
<path d="M333.08 473.32V476.28M329.08 473.32H337.08M329.08 476.28H337.08" fill="none" stroke="#000" stroke-width="0.8"/>
<path d="M359.66 458.97V462.92M355.66 458.97H363.66M355.66 462.92H363.66" fill="none" stroke="#000" stroke-width="0.8"/>
<path d="M386.24 448.02V451.96M382.24 448.02H390.24M382.24 451.96H390.24" fill="none" stroke="#000" stroke-width="0.8"/>
<path d="M412.82 438.79V442.25M408.82 438.79H416.82M408.82 442.25H416.82" fill="none" stroke="#000" stroke-width="0.8"/>
<path d="M439.4 427.45V430.9M435.4 427.45H443.4M435.4 430.9H443.4" fill="none" stroke="#000" stroke-width="0.8"/>
<path d="M465.98 419.31V422.27M461.98 419.31H469.98M461.98 422.27H469.98" fill="none" stroke="#000" stroke-width="0.8"/>
<rect x="304.3" y="480.25" width="4.4" height="4.4" fill="#fff" stroke="#000" stroke-width="0.8"/>
<rect x="313.16" y="478.28" width="4.4" height="4.4" fill="#fff" stroke="#000" stroke-width="0.8"/>
<rect x="330.88" y="472.6" width="4.4" height="4.4" fill="#fff" stroke="#000" stroke-width="0.8"/>
<rect x="357.46" y="458.74" width="4.4" height="4.4" fill="#fff" stroke="#000" stroke-width="0.8"/>
<rect x="384.04" y="447.79" width="4.4" height="4.4" fill="#fff" stroke="#000" stroke-width="0.8"/>
<rect x="410.62" y="438.32" width="4.4" height="4.4" fill="#fff" stroke="#000" stroke-width="0.8"/>
<rect x="437.2" y="426.98" width="4.4" height="4.4" fill="#fff" stroke="#000" stroke-width="0.8"/>
<rect x="463.78" y="418.59" width="4.4" height="4.4" fill="#fff" stroke="#000" stroke-width="0.8"/>
<rect x="437.4" y="457.2" width="4.4" height="4.4" fill="#000" stroke="#000" stroke-width="0.8"/>
<text x="456.4" y="462.6" font-size="9.8">pH 4</text>
<rect x="437.4" y="468.3" width="4.4" height="4.4" fill="#fff" stroke="#000" stroke-width="0.8"/>
<text x="456.4" y="473.7" font-size="9.8">pH 8</text>
<text x="395.1" y="519.15" font-size="10.9" font-weight="bold" text-anchor="middle">Irradiation time (min)</text>
<text transform="translate(270.6,396.12) rotate(-90)" font-size="10.8" font-weight="bold" text-anchor="middle">ln(C<tspan font-size="7.5" dy="2.2">0</tspan><tspan dy="-2.2">/C)</tspan></text>
<line x1="574.15" y1="482.45" x2="574.15" y2="487.05" stroke="#000" stroke-width="0.9"/>
<line x1="591.88" y1="482.45" x2="591.88" y2="487.05" stroke="#000" stroke-width="0.9"/>
<line x1="609.6" y1="482.45" x2="609.6" y2="487.05" stroke="#000" stroke-width="0.9"/>
<line x1="627.32" y1="482.45" x2="627.32" y2="487.05" stroke="#000" stroke-width="0.9"/>
<line x1="645.05" y1="482.45" x2="645.05" y2="487.05" stroke="#000" stroke-width="0.9"/>
<line x1="662.77" y1="482.45" x2="662.77" y2="487.05" stroke="#000" stroke-width="0.9"/>
<line x1="680.5" y1="482.45" x2="680.5" y2="487.05" stroke="#000" stroke-width="0.9"/>
<line x1="698.23" y1="482.45" x2="698.23" y2="487.05" stroke="#000" stroke-width="0.9"/>
<line x1="715.95" y1="482.45" x2="715.95" y2="487.05" stroke="#000" stroke-width="0.9"/>
<line x1="733.67" y1="482.45" x2="733.67" y2="487.05" stroke="#000" stroke-width="0.9"/>
<line x1="751.4" y1="482.45" x2="751.4" y2="487.05" stroke="#000" stroke-width="0.9"/>
<line x1="569.55" y1="482.45" x2="574.15" y2="482.45" stroke="#000" stroke-width="0.9"/>
<line x1="569.55" y1="453.68" x2="574.15" y2="453.68" stroke="#000" stroke-width="0.9"/>
<line x1="569.55" y1="424.9" x2="574.15" y2="424.9" stroke="#000" stroke-width="0.9"/>
<line x1="569.55" y1="396.12" x2="574.15" y2="396.12" stroke="#000" stroke-width="0.9"/>
<line x1="569.55" y1="367.35" x2="574.15" y2="367.35" stroke="#000" stroke-width="0.9"/>
<line x1="569.55" y1="338.58" x2="574.15" y2="338.58" stroke="#000" stroke-width="0.9"/>
<line x1="569.55" y1="309.8" x2="574.15" y2="309.8" stroke="#000" stroke-width="0.9"/>
<text x="573.85" y="498.55" font-size="8.6" text-anchor="middle">0</text>
<text x="591.58" y="498.55" font-size="8.6" text-anchor="middle">20</text>
<text x="609.3" y="498.55" font-size="8.6" text-anchor="middle">40</text>
<text x="627.02" y="498.55" font-size="8.6" text-anchor="middle">60</text>
<text x="644.75" y="498.55" font-size="8.6" text-anchor="middle">80</text>
<text x="662.48" y="498.55" font-size="8.6" text-anchor="middle">100</text>
<text x="680.2" y="498.55" font-size="8.6" text-anchor="middle">120</text>
<text x="697.93" y="498.55" font-size="8.6" text-anchor="middle">140</text>
<text x="715.65" y="498.55" font-size="8.6" text-anchor="middle">160</text>
<text x="733.38" y="498.55" font-size="8.6" text-anchor="middle">180</text>
<text x="751.1" y="498.55" font-size="8.6" text-anchor="middle">200</text>
<text x="565.45" y="485.35" font-size="8.7" text-anchor="end">0.0</text>
<text x="565.45" y="456.57" font-size="8.7" text-anchor="end">0.5</text>
<text x="565.45" y="427.8" font-size="8.7" text-anchor="end">1.0</text>
<text x="565.45" y="399.02" font-size="8.7" text-anchor="end">1.5</text>
<text x="565.45" y="370.25" font-size="8.7" text-anchor="end">2.0</text>
<text x="565.45" y="341.48" font-size="8.7" text-anchor="end">2.5</text>
<text x="565.45" y="312.7" font-size="8.7" text-anchor="end">3.0</text>
<rect x="574.15" y="309.8" width="177.25" height="172.65" fill="none" stroke="#000" stroke-width="1.75"/>
<polyline points="576.37,482.45 600.74,456.55 627.32,432.38 653.91,408.21 680.5,380.3 707.09,352.96 733.67,325.05" fill="none" stroke="#000" stroke-width="0.7"/>
<line x1="577.78" y1="482.45" x2="733.67" y2="392.67" stroke="#000" stroke-width="0.7"/>
<path d="M583.01 472.67V474.97M579.01 472.67H587.01M579.01 474.97H587.01" fill="none" stroke="#000" stroke-width="0.8"/>
<path d="M600.74 456.55V458.85M596.74 456.55H604.74M596.74 458.85H604.74" fill="none" stroke="#000" stroke-width="0.8"/>
<path d="M627.32 432.96V435.26M623.32 432.96H631.32M623.32 435.26H631.32" fill="none" stroke="#000" stroke-width="0.8"/>
<path d="M653.91 408.21V411.66M649.91 408.21H657.91M649.91 411.66H657.91" fill="none" stroke="#000" stroke-width="0.8"/>
<path d="M680.5 380.3V383.75M676.5 380.3H684.5M676.5 383.75H684.5" fill="none" stroke="#000" stroke-width="0.8"/>
<path d="M707.09 352.39V355.84M703.09 352.39H711.09M703.09 355.84H711.09" fill="none" stroke="#000" stroke-width="0.8"/>
<path d="M733.67 323.32V326.78M729.67 323.32H737.67M729.67 326.78H737.67" fill="none" stroke="#000" stroke-width="0.8"/>
<polygon points="571,482.45 574.15,479.45 577.3,482.45 574.15,485.45" fill="#000" stroke="#000" stroke-width="0.8"/>
<polygon points="579.86,473.82 583.01,470.82 586.16,473.82 583.01,476.82" fill="#000" stroke="#000" stroke-width="0.8"/>
<polygon points="597.59,457.7 600.74,454.7 603.89,457.7 600.74,460.7" fill="#000" stroke="#000" stroke-width="0.8"/>
<polygon points="624.17,434.11 627.32,431.11 630.47,434.11 627.32,437.11" fill="#000" stroke="#000" stroke-width="0.8"/>
<polygon points="650.76,409.94 653.91,406.94 657.06,409.94 653.91,412.94" fill="#000" stroke="#000" stroke-width="0.8"/>
<polygon points="677.35,382.03 680.5,379.03 683.65,382.03 680.5,385.03" fill="#000" stroke="#000" stroke-width="0.8"/>
<polygon points="703.94,354.11 707.09,351.11 710.24,354.11 707.09,357.11" fill="#000" stroke="#000" stroke-width="0.8"/>
<polygon points="730.52,325.05 733.67,322.05 736.82,325.05 733.67,328.05" fill="#000" stroke="#000" stroke-width="0.8"/>
<path d="M583.01 478.71V482.16M579.01 478.71H587.01M579.01 482.16H587.01" fill="none" stroke="#000" stroke-width="0.8"/>
<path d="M600.74 469.96V474.57M596.74 469.96H604.74M596.74 474.57H604.74" fill="none" stroke="#000" stroke-width="0.8"/>
<path d="M627.32 453.96V456.26M623.32 453.96H631.32M623.32 456.26H631.32" fill="none" stroke="#000" stroke-width="0.8"/>
<path d="M653.91 437.91V440.21M649.91 437.91H657.91M649.91 440.21H657.91" fill="none" stroke="#000" stroke-width="0.8"/>
<path d="M680.5 421.04V425.65M676.5 421.04H684.5M676.5 425.65H684.5" fill="none" stroke="#000" stroke-width="0.8"/>
<path d="M707.09 405.79V410.97M703.09 405.79H711.09M703.09 410.97H711.09" fill="none" stroke="#000" stroke-width="0.8"/>
<path d="M733.67 390.66V397.56M729.67 390.66H737.67M729.67 397.56H737.67" fill="none" stroke="#000" stroke-width="0.8"/>
<polygon points="571,482.45 574.15,479.45 577.3,482.45 574.15,485.45" fill="#fff" stroke="#000" stroke-width="0.8"/>
<polygon points="579.86,480.44 583.01,477.44 586.16,480.44 583.01,483.44" fill="#fff" stroke="#000" stroke-width="0.8"/>
<polygon points="597.59,472.26 600.74,469.26 603.89,472.26 600.74,475.26" fill="#fff" stroke="#000" stroke-width="0.8"/>
<polygon points="624.17,455.11 627.32,452.11 630.47,455.11 627.32,458.11" fill="#fff" stroke="#000" stroke-width="0.8"/>
<polygon points="650.76,439.06 653.91,436.06 657.06,439.06 653.91,442.06" fill="#fff" stroke="#000" stroke-width="0.8"/>
<polygon points="677.35,423.35 680.5,420.35 683.65,423.35 680.5,426.35" fill="#fff" stroke="#000" stroke-width="0.8"/>
<polygon points="703.94,408.38 707.09,405.38 710.24,408.38 707.09,411.38" fill="#fff" stroke="#000" stroke-width="0.8"/>
<polygon points="730.52,394.11 733.67,391.11 736.82,394.11 733.67,397.11" fill="#fff" stroke="#000" stroke-width="0.8"/>
<polygon points="703.35,457.7 706.5,454.7 709.65,457.7 706.5,460.7" fill="#000" stroke="#000" stroke-width="0.8"/>
<text x="722.7" y="460.9" font-size="9.8">pH 4</text>
<polygon points="703.35,469 706.5,466 709.65,469 706.5,472" fill="#fff" stroke="#000" stroke-width="0.8"/>
<text x="722.7" y="472.2" font-size="9.8">pH 8</text>
<text x="662.77" y="519.15" font-size="10.9" font-weight="bold" text-anchor="middle">Irradiation time (min)</text>
<text transform="translate(538.5,396.12) rotate(-90)" font-size="10.8" font-weight="bold" text-anchor="middle">ln(C<tspan font-size="7.5" dy="2.2">0</tspan><tspan dy="-2.2">/C)</tspan></text>
</svg>
</body>
</html>
